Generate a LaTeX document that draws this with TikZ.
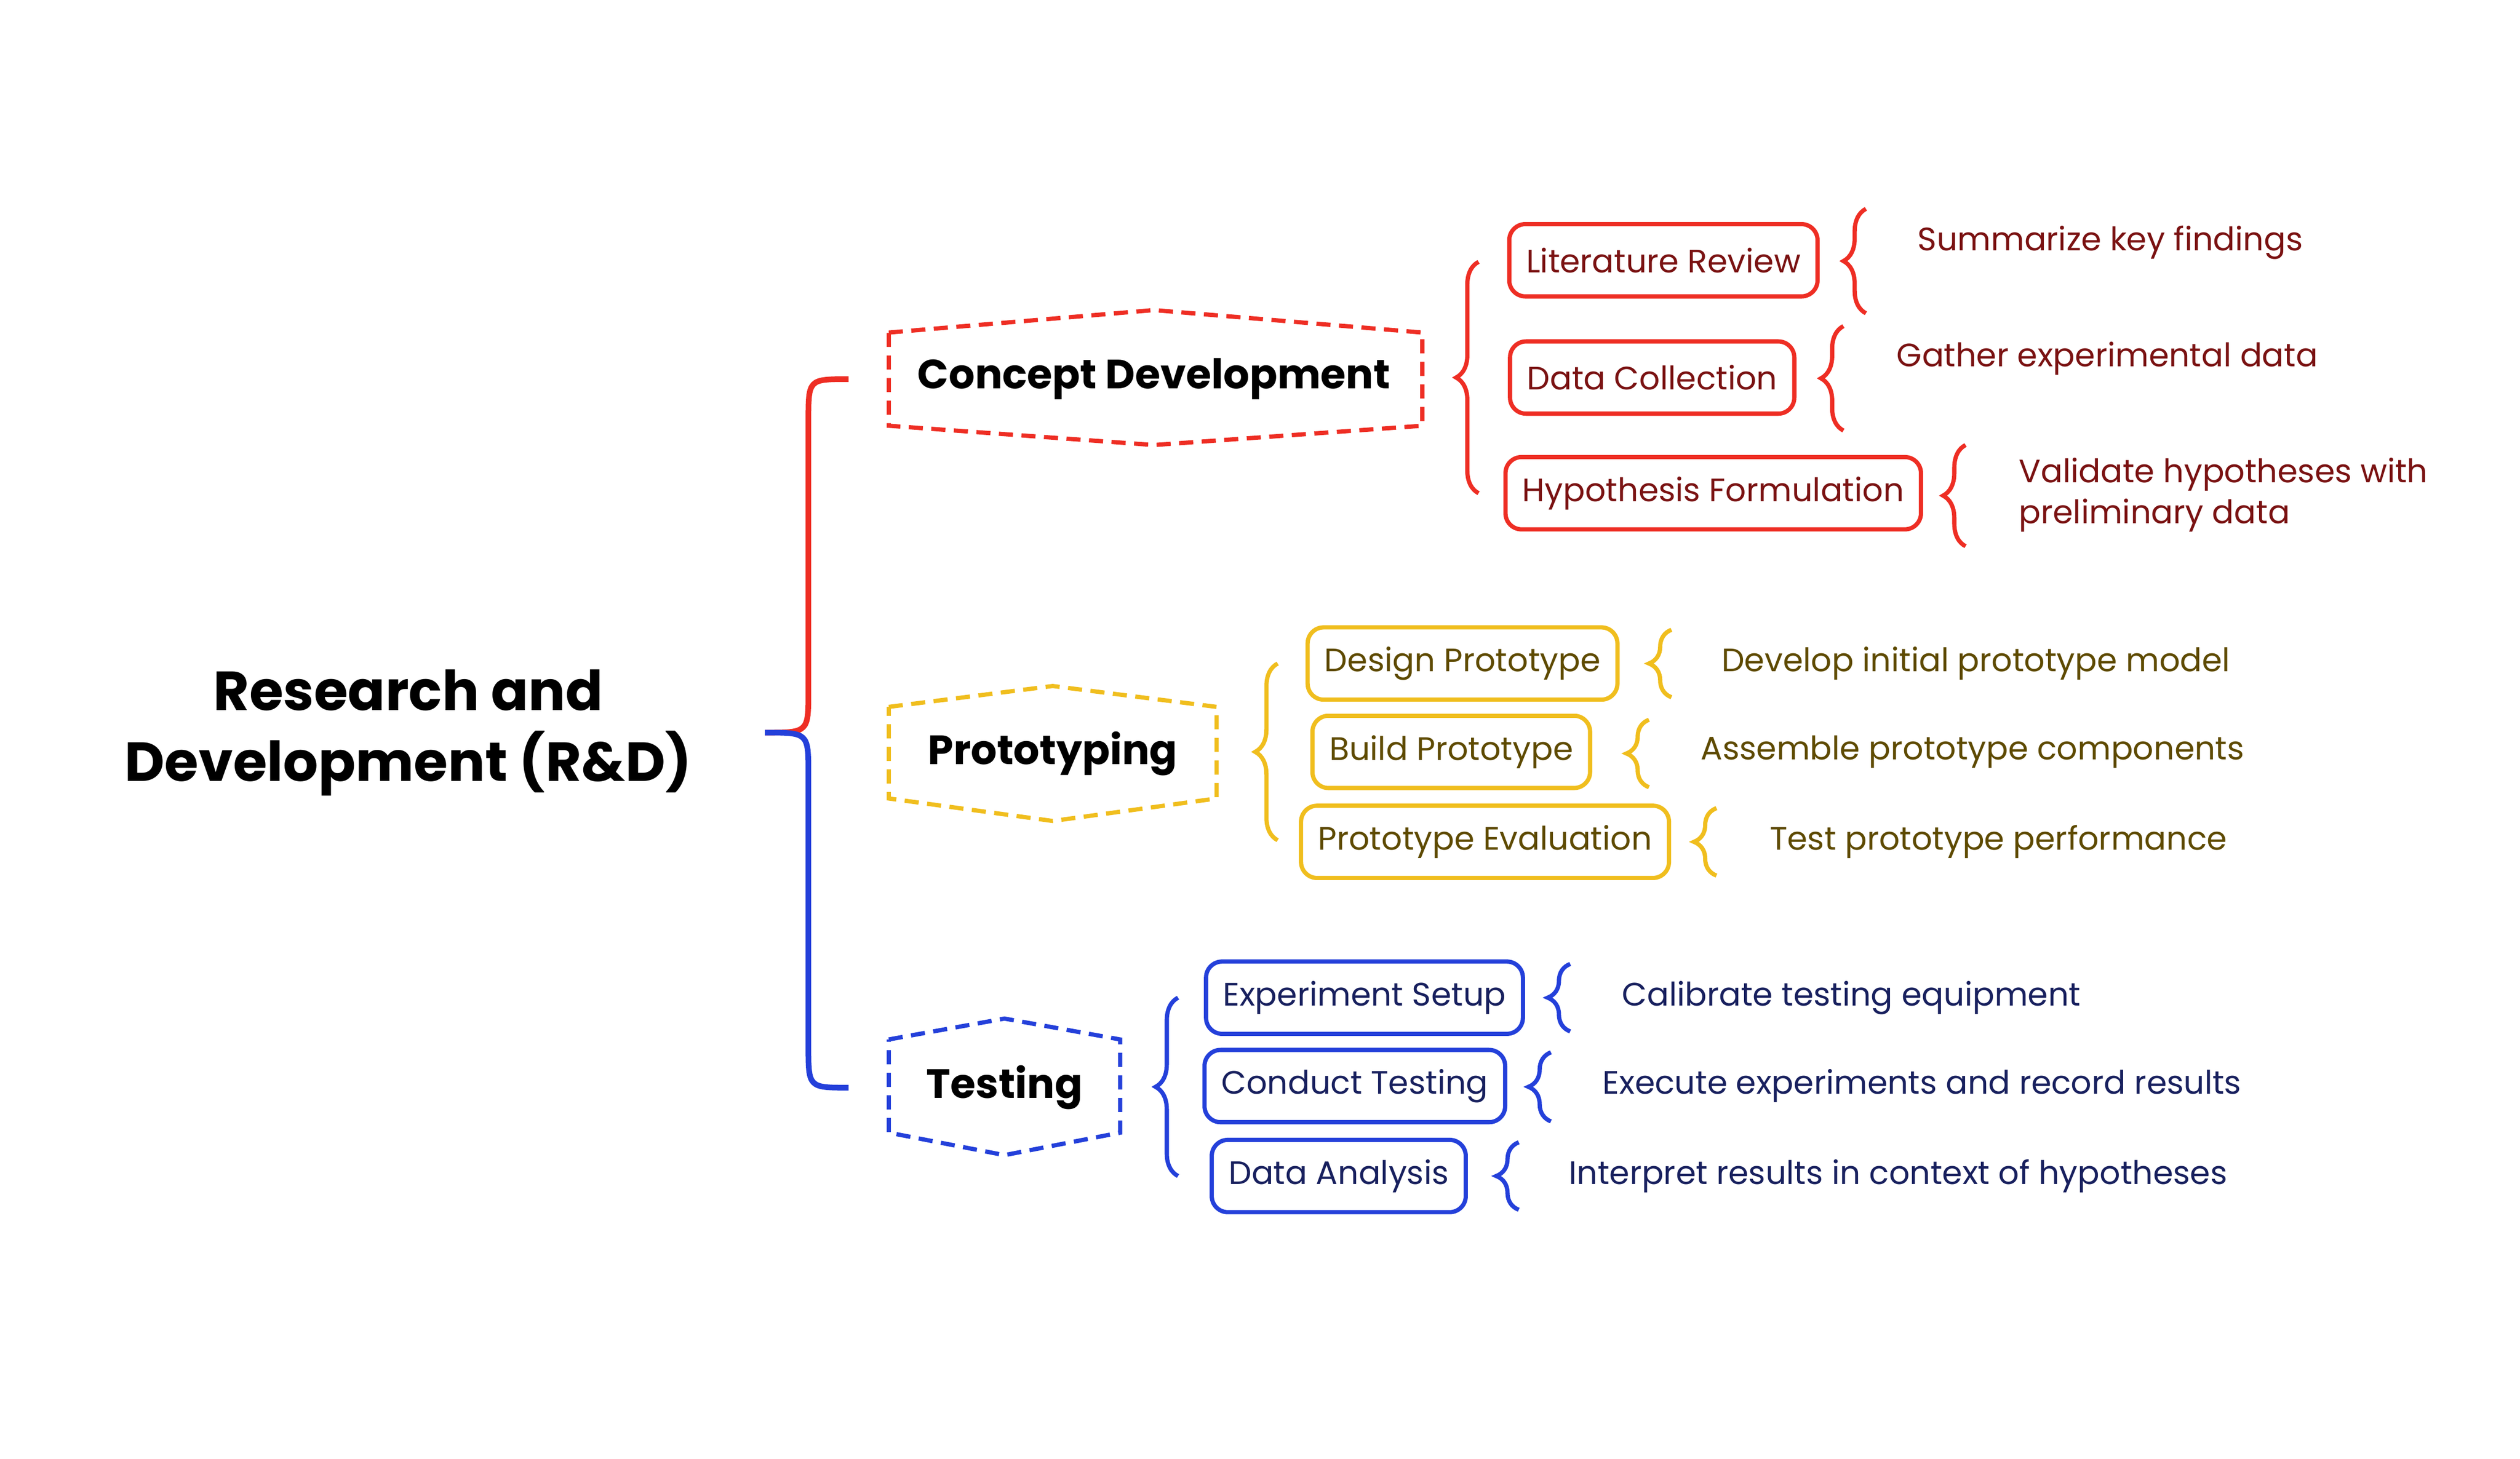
\documentclass[tikz,border=0pt]{standalone}
\usepackage{fontspec}
\setmainfont{Poppins}
\usetikzlibrary{decorations.pathreplacing}
\definecolor{cR}{HTML}{EE2E24}\definecolor{tR}{HTML}{7A1212}
\definecolor{cY}{HTML}{F0BE1E}\definecolor{tY}{HTML}{5E4A00}
\definecolor{cB}{HTML}{2440DA}\definecolor{tB}{HTML}{18205E}
\begin{document}
\begin{tikzpicture}[x=0.02cm,y=-0.02cm,
 box/.style={draw=#1,line width=1.5pt,rounded corners=0.2cm,minimum height=0.9cm,font=\fontsize{11.5}{14}\selectfont,inner xsep=6pt},
 desc/.style={anchor=west,font=\fontsize{11.5}{14.5}\selectfont,align=left},
 hexa/.style={draw=#1,line width=1.5pt,dash pattern=on 5pt off 3pt},
 cat/.style={font=\fontsize{14.5}{17}\selectfont\bfseries},
 br/.style={draw=#1,line width=1.5pt,decorate,decoration={brace,amplitude=0.28cm}}]
\useasboundingbox (0,0) rectangle (1568,908);
\node[font=\fontsize{19.5}{25}\selectfont\bfseries,align=center] (root) at (254,456) {Research and\\Development (R\&D)};
% main brace
\coordinate (tip) at (476,456);
\coordinate (c1) at (528,236);\coordinate (c3) at (528,677);
\draw[cR,line width=2pt] (c1) .. controls (503,236) .. (503,262) -- (503,430) .. controls (503,456) .. (tip);
\draw[cB,line width=2pt] (tip) .. controls (503,456) .. (503,482) -- (503,651) .. controls (503,677) .. (c3);
% hexagons
\draw[hexa=cR] (553,207) -- (718,193) -- (885,207) -- (885,265) -- (718,277) -- (553,265) -- cycle;
\draw[hexa=cY] (553,440) -- (655,427) -- (757,440) -- (757,497) -- (655,511) -- (553,497) -- cycle;
\draw[hexa=cB] (553,647) -- (625,634) -- (697,647) -- (697,705) -- (625,719) -- (553,705) -- cycle;
\node[cat] (cd) at (718,236) {Concept Development};
\node[cat] (pr) at (655,469) {Prototyping};
\node[cat] (te) at (625,677) {Testing};
% group braces
\draw[br=cR] (920,307) -- (920,163);
\draw[br=cY] (795,523) -- (795,413);
\draw[br=cB] (733,732) -- (733,621);
% boxes
\node[box=cR,text=tR,minimum width=3.52cm] (lr) at (1035,162) {Literature Review};
\node[box=cR,text=tR,minimum width=3.26cm] (dc) at (1028,235) {Data Collection};
\node[box=cR,text=tR,minimum width=4.78cm] (hf) at (1066,307) {Hypothesis Formulation};
\node[box=cY,text=tY,minimum width=3.68cm] (dp) at (910,413) {Design Prototype};
\node[box=cY,text=tY,minimum width=3.4cm] (bp) at (903,468) {Build Prototype};
\node[box=cY,text=tY,minimum width=4.24cm] (pe) at (924,524) {Prototype Evaluation};
\node[box=cB,text=tB,minimum width=3.62cm] (es) at (849,621) {Experiment Setup};
\node[box=cB,text=tB,minimum width=3.38cm] (ct) at (843,676) {Conduct Testing};
\node[box=cB,text=tB,minimum width=2.96cm] (da) at (833,732) {Data Analysis};
% small braces
\draw[br=cR] (1161,195) -- (1161,130);
\draw[br=cR] (1147,268) -- (1147,203);
\draw[br=cR] (1223,340) -- (1223,277);
\draw[br=cY] (1040,434) -- (1040,392);
\draw[br=cY] (1026,490) -- (1026,448);
\draw[br=cY] (1068,545) -- (1068,503);
\draw[br=cB] (977,642) -- (977,600);
\draw[br=cB] (965,698) -- (965,655);
\draw[br=cB] (945,753) -- (945,711);
% descriptions
\node[desc,text=tR] (d1) at (1187,151) {Summarize key findings};
\node[desc,text=tR] (d2) at (1174,223) {Gather experimental data};
\node[desc,text=tR] (d3) at (1250,308) {Validate hypotheses with\\preliminary data};
\node[desc,text=tY] (d4) at (1065,413) {Develop initial prototype model};
\node[desc,text=tY] (d5) at (1052,468) {Assemble prototype components};
\node[desc,text=tY] (d6) at (1095,524) {Test prototype performance};
\node[desc,text=tB] (d7) at (1003,621) {Calibrate testing equipment};
\node[desc,text=tB] (d8) at (991,676) {Execute experiments and record results};
\node[desc,text=tB] (d9) at (970,732) {Interpret results in context of hypotheses};
\end{tikzpicture}
\end{document}
